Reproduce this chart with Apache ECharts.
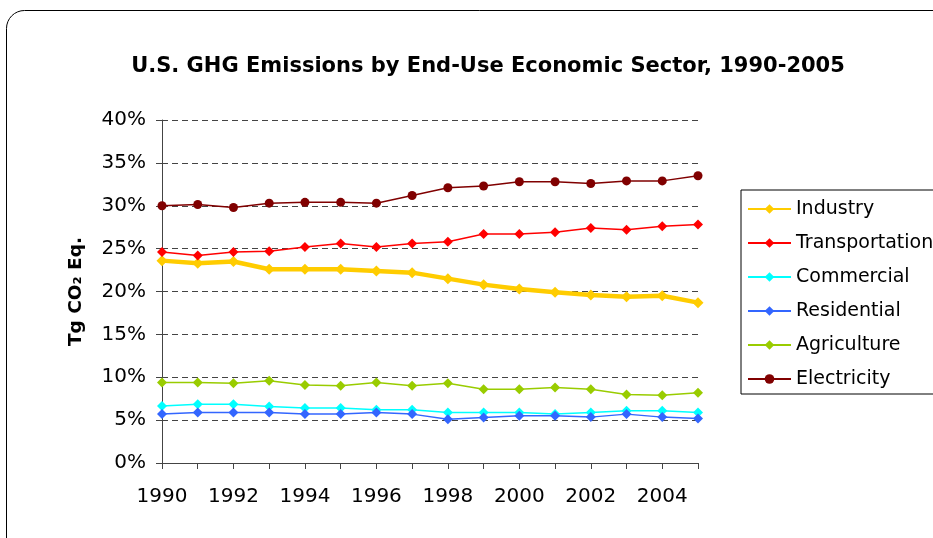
<!DOCTYPE html>
<html><head><meta charset="utf-8">
<script src="https://cdn.jsdelivr.net/npm/echarts@6/dist/echarts.min.js"></script>
<style>html,body{margin:0;padding:0;background:#fff}#c{width:933px;height:538px}</style>
</head><body><div id="c"></div>
<script>
var years = ['1990','1991','1992','1993','1994','1995','1996','1997','1998','1999','2000','2001','2002','2003','2004','2005'];
var industry = [23.6,23.3,23.5,22.6,22.6,22.6,22.4,22.2,21.5,20.8,20.3,19.9,19.6,19.4,19.5,18.7];
var transportation = [24.6,24.2,24.6,24.7,25.2,25.6,25.2,25.6,25.8,26.7,26.7,26.9,27.4,27.2,27.6,27.8];
var commercial = [6.65,6.85,6.85,6.6,6.4,6.4,6.2,6.2,5.9,5.9,5.9,5.7,5.9,6.1,6.1,5.9];
var residential = [5.7,5.9,5.9,5.9,5.7,5.7,5.9,5.7,5.1,5.3,5.5,5.5,5.35,5.7,5.35,5.2];
var agriculture = [9.4,9.4,9.3,9.6,9.1,9.0,9.4,9.0,9.3,8.6,8.6,8.8,8.6,8.0,7.9,8.2];
var electricity = [30.0,30.15,29.8,30.3,30.4,30.4,30.3,31.2,32.1,32.3,32.8,32.8,32.6,32.9,32.9,33.5];

var F = 'DejaVu Sans, sans-serif';
function s(name, data, color, width, symbol, size) {
  return {name: name, type: 'line', data: data, symbol: symbol, symbolSize: size,
    lineStyle: {color: color, width: width}, itemStyle: {color: color}, z: 3};
}
var chart = echarts.init(document.getElementById('c'));
chart.setOption({
  animation: false,
  graphic: [{type: 'rect', shape: {x: 6.5, y: 10.5, width: 1000, height: 600, r: 18},
    style: {fill: 'none', stroke: '#000', lineWidth: 1}, z: -1}],
  title: {text: 'U.S. GHG Emissions by End-Use Economic Sector, 1990-2005', left: 483, top: 51, textAlign: 'center',
    textStyle: {fontFamily: F, fontSize: 21, fontWeight: 'bold', color: '#000'}},
  grid: {left: 162, right: 235, top: 120, bottom: 75},
  legend: {orient: 'vertical', left: 741, top: 190, itemWidth: 43, itemHeight: 12, itemGap: 12,
    borderColor: '#000', borderWidth: 1, padding: [8, 60, 4, 6],
    textStyle: {fontFamily: F, fontSize: 19, color: '#000', lineHeight: 22},
    data: ['Industry','Transportation','Commercial','Residential','Agriculture','Electricity']},
  xAxis: {type: 'category', data: years, boundaryGap: false,
    axisLine: {lineStyle: {color: '#444'}},
    axisTick: {interval: 0, length: 6, lineStyle: {color: '#444'}},
    axisLabel: {interval: 1, fontFamily: F, fontSize: 20, color: '#000', margin: 24}},
  yAxis: {type: 'value', min: 0, max: 40, interval: 5,
    name: 'Tg CO\u2082 Eq.', nameLocation: 'middle', nameGap: 76,
    nameTextStyle: {fontFamily: F, fontSize: 18.5, fontWeight: 'bold', color: '#000'},
    axisLine: {show: true, lineStyle: {color: '#444'}},
    axisTick: {show: true, length: 6, lineStyle: {color: '#444'}},
    axisLabel: {formatter: '{value}%', fontFamily: F, fontSize: 20, color: '#000', margin: 16},
    splitLine: {lineStyle: {color: '#444', type: [6, 4], width: 1}}},
  series: [
    s('Industry', industry, '#FFCC00', 4.5, 'diamond', 11),
    s('Transportation', transportation, '#FF0000', 1.5, 'diamond', 10),
    s('Commercial', commercial, '#00FFFF', 1.5, 'diamond', 10),
    s('Residential', residential, '#3366FF', 1.5, 'diamond', 10),
    s('Agriculture', agriculture, '#99CC00', 1.5, 'diamond', 10),
    s('Electricity', electricity, '#800000', 1.5, 'circle', 9)
  ]
});
</script></body></html>
